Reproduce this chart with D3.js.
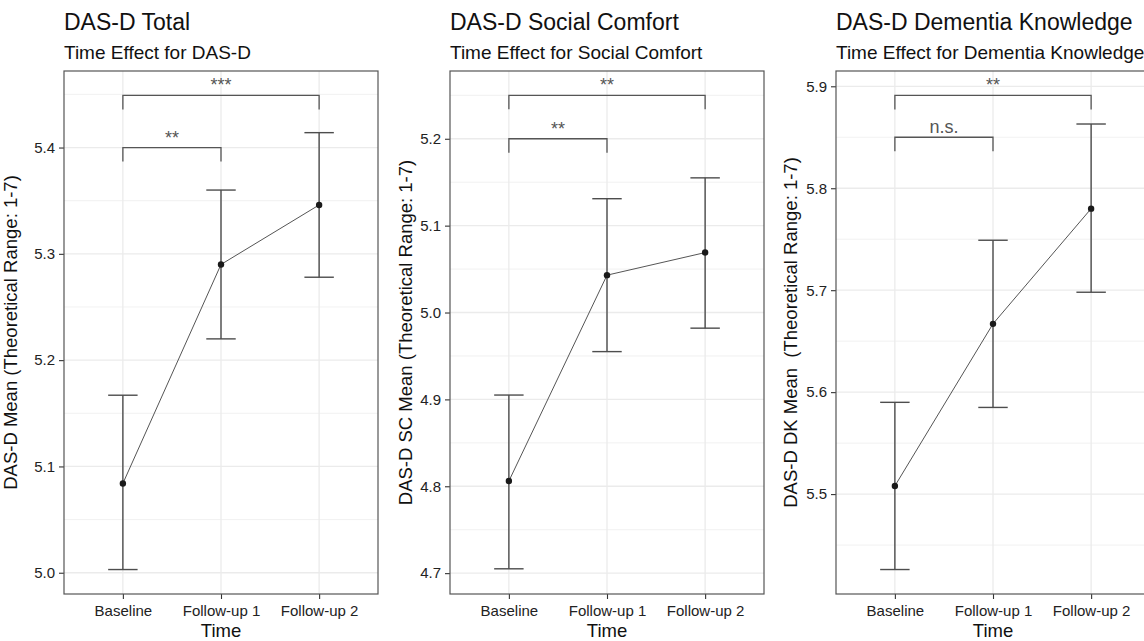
<html>
<head>
<title>DAS-D time effects</title>
<style>
  body { margin: 0; background: #fff; }
  text { font-family: "Liberation Sans", Arial, sans-serif; }
</style>
</head>
<body>
<svg id="container" width="1144" height="641"></svg>
<script src="https://d3js.org/d3.v7.min.js"></script>
<script>
// ---- data ----
const timePoints = ["Baseline", "Follow-up 1", "Follow-up 2"]

const titles = ["DAS-D Total", "DAS-D Social Comfort", "DAS-D Dementia Knowledge"]
const subtitles = ["Time Effect for DAS-D", "Time Effect for Social Comfort", "Time Effect for Dementia Knowledge"]
const yTitles = ["DAS-D Mean (Theoretical Range: 1-7)",
                 "DAS-D SC Mean (Theoretical Range: 1-7)",
                 "DAS-D DK Mean  (Theoretical Range: 1-7)"]

const totalMean = [5.084, 5.290, 5.346]
const totalLow  = [5.003, 5.220, 5.278]
const totalHigh = [5.167, 5.360, 5.414]

const scMean = [4.806, 5.043, 5.069]
const scLow  = [4.705, 4.955, 4.982]
const scHigh = [4.905, 5.131, 5.155]

const dkMean = [5.508, 5.667, 5.780]
const dkLow  = [5.426, 5.585, 5.698]
const dkHigh = [5.590, 5.749, 5.863]

const totalTicks = [5.0, 5.1, 5.2, 5.3, 5.4]
const scTicks = [4.7, 4.8, 4.9, 5.0, 5.1, 5.2]
const dkTicks = [5.5, 5.6, 5.7, 5.8, 5.9]

const totalDomain = [4.980, 5.472]
const scDomain = [4.676, 5.278]
const dkDomain = [5.402, 5.915]

// significance brackets: [from, to, y, label]
const totalSig = [[0, 1, 5.400, "**"], [0, 2, 5.449, "***"]]
const scSig = [[0, 1, 5.200, "**"], [0, 2, 5.250, "**"]]
const dkSig = [[0, 1, 5.850, "n.s."], [0, 2, 5.891, "**"]]

const panels = [
    {mean: totalMean, low: totalLow, high: totalHigh, ticks: totalTicks, domain: totalDomain, sig: totalSig, yTitleOff: -47},
    {mean: scMean, low: scLow, high: scHigh, ticks: scTicks, domain: scDomain, sig: scSig, yTitleOff: -38},
    {mean: dkMean, low: dkLow, high: dkHigh, ticks: dkTicks, domain: dkDomain, sig: dkSig, yTitleOff: -39}
]

// ---- layout ----
let container = d3.select("#container")
const panelStep = 386, plotLeft = 64, plotW = 314
const plotTop = 71, plotBottom = 594
const gridCol = "#ebebeb", inkCol = "#4d4d4d"

panels.forEach((p, i) => {
    let g = container.append("g").attr("transform", `translate(${i * panelStep + plotLeft},0)`)

    let x = d3.scalePoint().domain(timePoints).range([0, plotW]).padding(0.6)
    let y = d3.scaleLinear().domain(p.domain).range([plotBottom, plotTop])
    let step = x.step()

    // minor grid
    let minor = []
    for (let k = 0; k <= p.ticks.length; k++) {
        let v = p.ticks[0] - 0.05 + k * 0.1
        if (v > p.domain[0] && v < p.domain[1]) minor.push(v)
    }
    g.selectAll(".minor").data(minor).enter().append("line")
        .attr("x1", 0).attr("x2", plotW)
        .attr("y1", d => y(d)).attr("y2", d => y(d))
        .attr("stroke", gridCol).attr("stroke-width", 0.7)

    // major grid
    g.selectAll(".hmajor").data(p.ticks).enter().append("line")
        .attr("x1", 0).attr("x2", plotW)
        .attr("y1", d => y(d)).attr("y2", d => y(d))
        .attr("stroke", gridCol).attr("stroke-width", 1.3)
    g.selectAll(".vmajor").data(timePoints).enter().append("line")
        .attr("x1", d => x(d)).attr("x2", d => x(d))
        .attr("y1", plotTop).attr("y2", plotBottom)
        .attr("stroke", gridCol).attr("stroke-width", 1.3)

    // axes
    let yAxis = g.append("g")
        .call(d3.axisLeft(y).tickValues(p.ticks).tickFormat(d3.format(".1f")).tickSize(5).tickPadding(4))
    let xAxis = g.append("g").attr("transform", `translate(0,${plotBottom})`)
        .call(d3.axisBottom(x).tickSize(5).tickPadding(6))
    for (let ax of [yAxis, xAxis]) {
        ax.select(".domain").remove()
        ax.selectAll(".tick line").attr("stroke", "#333").attr("stroke-width", 1.1)
        ax.selectAll(".tick text").attr("fill", "#222").style("font-size", "15px")
            .style("font-family", "'Liberation Sans', Arial, sans-serif")
    }

    // connecting line
    let pts = timePoints.map((t, k) => [x(t), y(p.mean[k])])
    g.append("path").attr("d", d3.line()(pts))
        .attr("fill", "none").attr("stroke", "#555").attr("stroke-width", 1)

    // error bars
    let cap = step * 0.15
    timePoints.forEach((t, k) => {
        let cx = x(t)
        let eb = g.append("g").attr("stroke", inkCol).attr("stroke-width", 1.4)
        eb.append("line").attr("x1", cx).attr("x2", cx).attr("y1", y(p.low[k])).attr("y2", y(p.high[k]))
        eb.append("line").attr("x1", cx - cap).attr("x2", cx + cap).attr("y1", y(p.low[k])).attr("y2", y(p.low[k]))
        eb.append("line").attr("x1", cx - cap).attr("x2", cx + cap).attr("y1", y(p.high[k])).attr("y2", y(p.high[k]))
    })

    g.selectAll(".pt").data(pts).enter().append("circle")
        .attr("cx", d => d[0]).attr("cy", d => d[1]).attr("r", 3.2).attr("fill", "#1a1a1a")

    // significance brackets
    p.sig.forEach(s => {
        let xa = x(timePoints[s[0]]), xb = x(timePoints[s[1]]), yy = y(s[2])
        g.append("path")
            .attr("d", `M${xa},${yy + 14}V${yy}H${xb}V${yy + 14}`)
            .attr("fill", "none").attr("stroke", "#555").attr("stroke-width", 1.3)
        g.append("text").attr("x", (xa + xb) / 2).attr("y", yy - 4)
            .attr("text-anchor", "middle").attr("fill", "#555")
            .style("font-size", "18px").text(s[3])
    })

    // panel border
    g.append("rect").attr("x", 0).attr("y", plotTop).attr("width", plotW).attr("height", plotBottom - plotTop)
        .attr("fill", "none").attr("stroke", "#555").attr("stroke-width", 1.2)

    // titles
    g.append("text").attr("x", 0).attr("y", 30).style("font-size", "23px").attr("fill", "#111").text(titles[i])
    g.append("text").attr("x", 0).attr("y", 59).style("font-size", "19px").attr("fill", "#111").text(subtitles[i])

    // axis titles
    g.append("text").attr("x", plotW / 2).attr("y", 637).attr("text-anchor", "middle")
        .style("font-size", "18.5px").attr("fill", "#111").text("Time")
    g.append("text")
        .attr("transform", `translate(${p.yTitleOff},${(plotTop + plotBottom) / 2}) rotate(-90)`)
        .attr("text-anchor", "middle").style("font-size", "18.5px").style("white-space", "pre")
        .attr("fill", "#111").text(yTitles[i])
})
</script>
</body>
</html>
